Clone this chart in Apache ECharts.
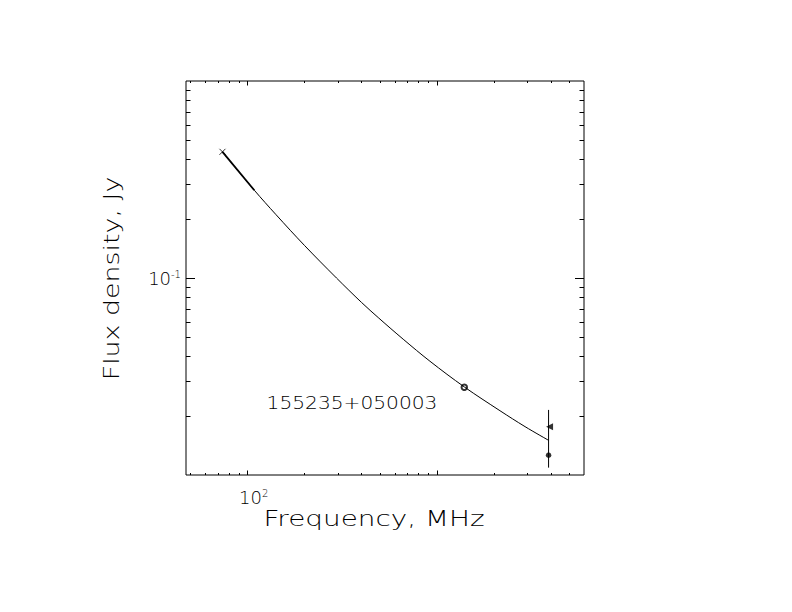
<!DOCTYPE html>
<html>
<head>
<meta charset="utf-8">
<script src="https://cdn.jsdelivr.net/npm/echarts@6/dist/echarts.min.js"></script>
<style>
html, body { margin: 0; padding: 0; background: #fff; }
#chart { width: 792px; height: 612px; }
</style>
</head>
<body>
<div id="chart"></div>
<script>
// fitted spectrum (MHz, Jy)
const fitFreq = [74, 109, 142, 201, 296, 401, 495, 666, 922, 1400, 2160, 2930, 3900];
const fitFlux = [0.437, 0.279, 0.2095, 0.146, 0.100, 0.0752, 0.0626, 0.0489, 0.0378, 0.0280, 0.0212, 0.0176, 0.0150];
// short heavier stretch at the low end
const heavyFreq = [74, 109];
const heavyFlux = [0.437, 0.279];
// measured points
const crossPt = [74, 0.437];
const circlePt = [1400, 0.0279];
const trianglePt = [3900, 0.0176];
const dotPt = [3900, 0.0126];
const errFreq = [3900, 3900];
const errFlux = [0.0109, 0.0214];
// axes
const xRange = [47.5, 6000];
const yRange = [0.01, 1];
const xMinor = [50, 60, 70, 80, 90, 200, 300, 400, 500, 600, 700, 800, 900, 2000, 3000, 4000, 5000];
const xMajor = [100, 1000];
const yMinor = [0.02, 0.03, 0.04, 0.05, 0.06, 0.07, 0.08, 0.09, 0.2, 0.3, 0.4, 0.5, 0.6, 0.7, 0.8, 0.9];
const yMajor = [0.1];
const xLabelAt = 100, yLabelAt = 0.1;
const sourceName = '155235+050003';
const xTitle = 'Frequency, MHz';
const yTitle = 'Flux density, Jy';

const FONT = 'DejaVu Sans';
const pairs = (a, b) => a.map((v, i) => [v, b[i]]);
const near = (v, t) => Math.abs(Math.log10(v) - Math.log10(t)) < 1e-6;

// tick marks drawn inward on both sides of the frame
function ticks(vals, axis, len) {
  return {
    type: 'custom',
    silent: true,
    clip: false,
    data: vals.map(v => axis === 'x' ? [v, yRange[0]] : [xRange[0], v]),
    renderItem: function (params, api) {
      const st = { stroke: '#000', lineWidth: 1 };
      if (axis === 'x') {
        const v = api.value(0);
        const a = api.coord([v, yRange[0]]), b = api.coord([v, yRange[1]]);
        const x = Math.round(a[0]) + 0.5;
        return { type: 'group', children: [
          { type: 'line', shape: { x1: x, y1: a[1], x2: x, y2: a[1] - len }, style: st },
          { type: 'line', shape: { x1: x, y1: b[1], x2: x, y2: b[1] + len }, style: st }
        ] };
      }
      const v = api.value(1);
      const a = api.coord([xRange[0], v]), b = api.coord([xRange[1], v]);
      const y = Math.round(a[1]) + 0.5;
      return { type: 'group', children: [
        { type: 'line', shape: { x1: a[0], y1: y, x2: a[0] + len, y2: y }, style: st },
        { type: 'line', shape: { x1: b[0], y1: y, x2: b[0] - len, y2: y }, style: st }
      ] };
    }
  };
}

const rich = {
  b: { fontSize: 18, fontFamily: FONT, fontWeight: 200, color: '#000' },
  s: { fontSize: 10, fontFamily: FONT, fontWeight: 200, color: '#000', verticalAlign: 'top' }
};

const chart = echarts.init(document.getElementById('chart'), null, { renderer: 'svg' });
chart.setOption({
  animation: false,
  backgroundColor: '#fff',
  grid: {
    left: 186, right: 208, top: 81, bottom: 137,
    show: true, borderColor: '#000', borderWidth: 1,
    outerBoundsMode: 'none'
  },
  xAxis: {
    type: 'log', logBase: 10, min: xRange[0], max: xRange[1],
    axisLine: { show: false }, axisTick: { show: false }, splitLine: { show: false },
    axisLabel: {
      margin: 13, padding: [0, 0, 0, 13], rich: rich,
      formatter: v => near(v, xLabelAt) ? '{b|10}{s|2}' : ''
    }
  },
  yAxis: {
    type: 'log', logBase: 10, min: yRange[0], max: yRange[1],
    axisLine: { show: false }, axisTick: { show: false }, splitLine: { show: false },
    axisLabel: {
      margin: 5, rich: rich,
      formatter: v => near(v, yLabelAt) ? '{b|10}{s|-1}' : ''
    }
  },
  series: [
    {
      type: 'line', data: pairs(fitFreq, fitFlux), smooth: 0.35,
      showSymbol: false, lineStyle: { color: '#000', width: 1 }, silent: true
    },
    {
      type: 'line', data: pairs(heavyFreq, heavyFlux), showSymbol: false,
      lineStyle: { color: '#000', width: 1.8 }, silent: true
    },
    {
      type: 'line', data: pairs(errFreq, errFlux), showSymbol: false,
      lineStyle: { color: '#000', width: 1 }, silent: true
    },
    {
      type: 'scatter', data: [crossPt], symbol: 'path://M0,0L10,10M10,0L0,10', symbolSize: 6,
      itemStyle: { color: 'none', borderColor: '#000', borderWidth: 1 }
    },
    {
      type: 'scatter', data: [circlePt], symbol: 'circle', symbolSize: 5.5,
      itemStyle: { color: '#fff', borderColor: '#000', borderWidth: 2 }
    },
    {
      type: 'scatter', data: [trianglePt], symbol: 'triangle', symbolSize: 7, symbolRotate: 90,
      symbolOffset: [1, 0], itemStyle: { color: '#000' }
    },
    {
      type: 'scatter', data: [dotPt], symbol: 'circle', symbolSize: 5.5,
      itemStyle: { color: '#000' }
    },
    ticks(xMinor, 'x', 2),
    ticks(xMajor, 'x', 4.5),
    ticks(yMinor, 'y', 4.5),
    ticks(yMajor, 'y', 9)
  ],
  graphic: [
    {
      type: 'text', x: 374, y: 519, scaleX: 1.36,
      style: { text: xTitle, fontSize: 20.5, fontFamily: FONT, fontWeight: 200, fill: '#000',
        align: 'center', verticalAlign: 'middle', textAlign: 'center', textVerticalAlign: 'middle' }
    },
    {
      type: 'text', x: 112, y: 278.5, rotation: Math.PI / 2, scaleX: 1.31,
      style: { text: yTitle, fontSize: 20.5, fontFamily: FONT, fontWeight: 200, fill: '#000',
        align: 'center', verticalAlign: 'middle', textAlign: 'center', textVerticalAlign: 'middle' }
    },
    {
      type: 'text', x: 352, y: 402.5, scaleX: 1.12,
      style: { text: sourceName, fontSize: 18, fontFamily: FONT, fontWeight: 200, fill: '#000',
        align: 'center', verticalAlign: 'middle', textAlign: 'center', textVerticalAlign: 'middle' }
    }
  ]
});
</script>
</body>
</html>
